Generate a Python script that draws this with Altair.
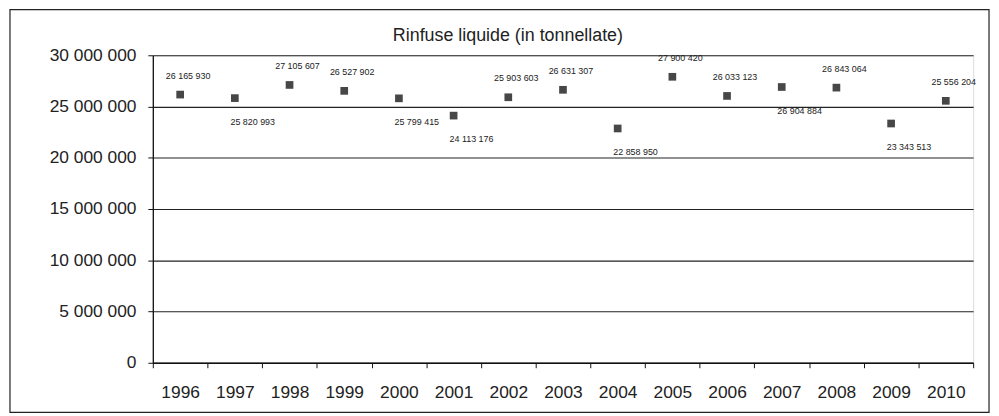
import altair as alt
import pandas as pd

years = ["1996", "1997", "1998", "1999", "2000", "2001", "2002", "2003",
         "2004", "2005", "2006", "2007", "2008", "2009", "2010"]
tonnes = [26165930, 25820993, 27105607, 26527902, 25799415, 24113176, 25903603,
          26631307, 22858950, 27900420, 26033123, 26904884, 26843064, 23343513,
          25556204]
title_text = "Rinfuse liquide (in tonnellate)"

df = pd.DataFrame({"year": years, "value": tonnes})

FONT = "Liberation Sans"
W, H = 827, 310

fmt_expr = "replace(format(datum.value, ','), regexp(',', 'g'), ' ')"

x = alt.X("year:O", title=None,
          scale=alt.Scale(type="band", paddingInner=0, paddingOuter=0),
          axis=alt.Axis(labelAngle=0, tickBand="extent", tickSize=5,
                        labelPadding=16, labelFontSize=17.5, labelFont=FONT,
                        labelColor="#222", domainColor="#111", tickColor="#111",
                        domainWidth=1.3, grid=False))
y = alt.Y("value:Q", title=None,
          scale=alt.Scale(domain=[0, 30000000], nice=False),
          axis=alt.Axis(values=[0, 5000000, 10000000, 15000000, 20000000,
                                25000000, 30000000],
                        labelExpr=fmt_expr, tickSize=5, labelPadding=12,
                        labelFontSize=17.5, labelFont=FONT, labelColor="#222",
                        domainColor="#111", tickColor="#111", domainWidth=1.3,
                        grid=True, gridColor="#222", gridWidth=1.1))

base = alt.Chart(df)
one = base.transform_filter("datum.year == '1996'")

frame = one.mark_rect(fill=None, stroke="#222", strokeWidth=1.2, clip=False).encode(
    x=alt.value(-144), x2=alt.value(843), y=alt.value(-46), y2=alt.value(360)
)

title = one.mark_text(font=FONT, fontSize=18, color="#222", align="center",
                      baseline="middle").encode(
    x=alt.value(358), y=alt.value(-19), text=alt.value(title_text)
)

points = base.mark_point(shape="square", filled=True, size=60,
                         color="#333", opacity=0.9).encode(x=x, y=y)

below_years = "['1997','2000','2001','2004','2007','2009']"

labels_above = base.transform_filter(
    f"indexof({below_years}, datum.year) < 0"
).transform_calculate(lab=fmt_expr).mark_text(
    fontSize=9, font=FONT, color="#222", dy=-19, dx=8
).encode(x=x, y=y, text="lab:N")

labels_below = base.transform_filter(
    f"indexof({below_years}, datum.year) >= 0"
).transform_calculate(lab=fmt_expr).mark_text(
    fontSize=9, font=FONT, color="#222", dy=24, dx=18
).encode(x=x, y=y, text="lab:N")

chart = alt.layer(frame, title, points, labels_above, labels_below).properties(
    width=W, height=H,
    autosize=alt.AutoSizeParams(type="none"),
    padding={"left": 146, "top": 46, "right": 18, "bottom": 52},
).configure_view(stroke=None).configure(background="white")

chart.save("out.html", embed_options={"renderer": "svg", "actions": False})
